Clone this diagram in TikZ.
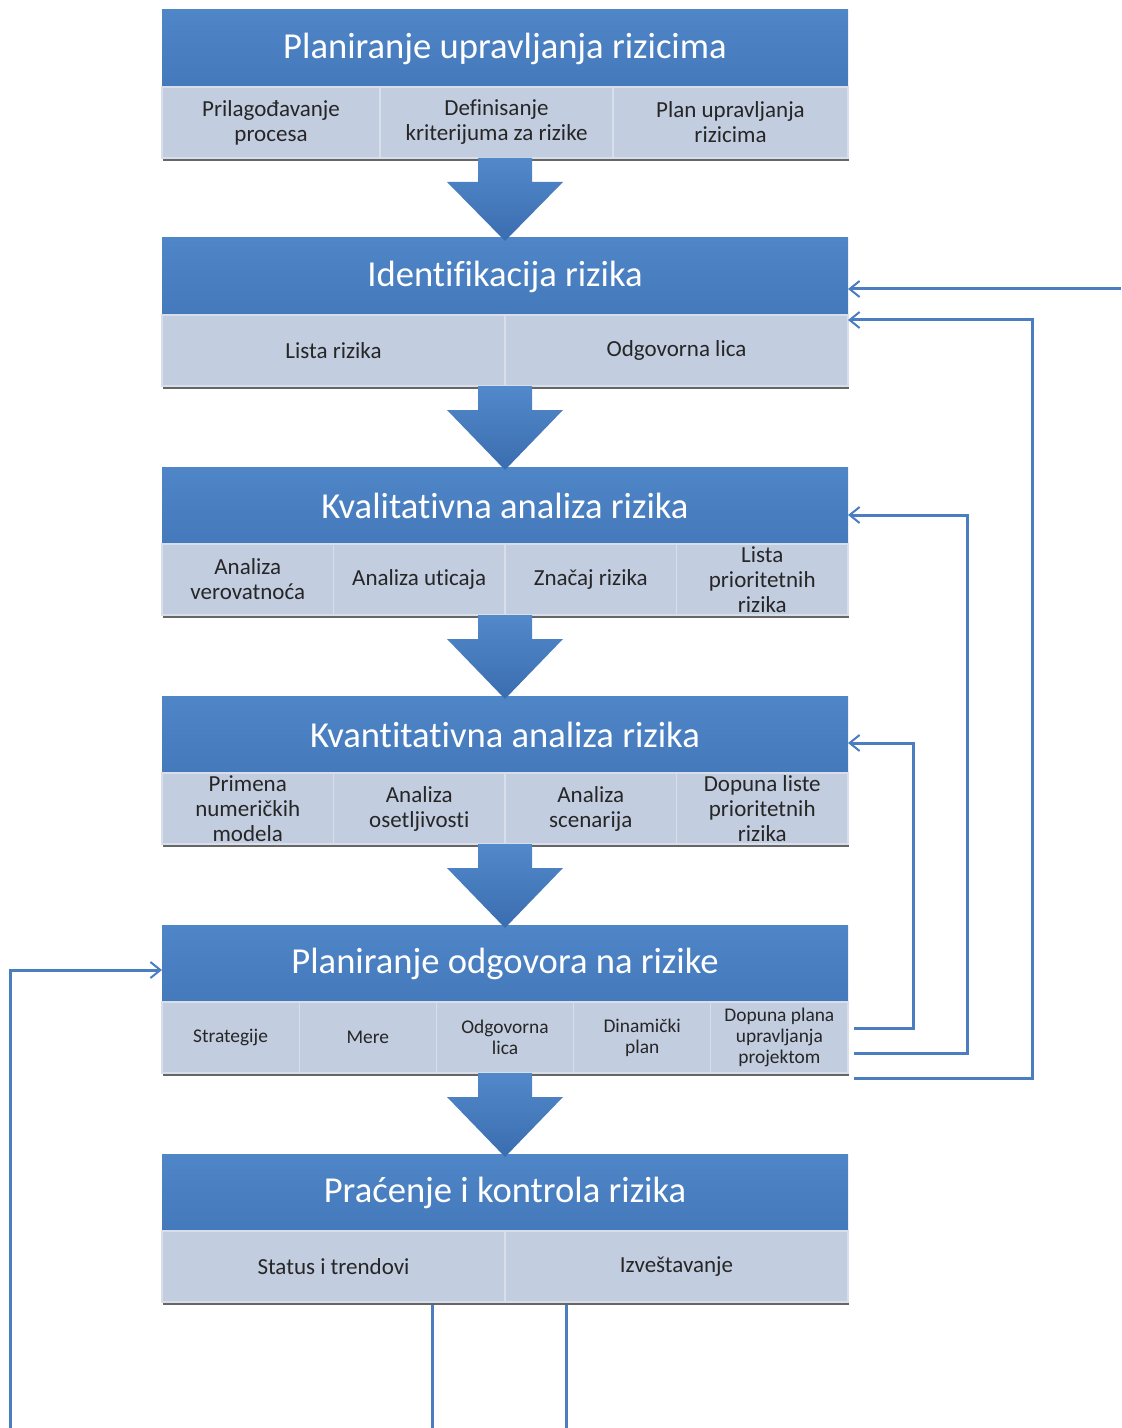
\documentclass[tikz,border=0pt]{standalone}
\usepackage{fontspec}
\setmainfont{Carlito}[Ligatures=NoCommon]
\usetikzlibrary{arrows.meta,calc,shadows}

\definecolor{hdrtop}{HTML}{4F86C7}
\definecolor{hdrbot}{HTML}{4479BB}
\definecolor{cellgray}{HTML}{C3CDE0}
\definecolor{celledge}{HTML}{D8DFEB}
\definecolor{linkblue}{HTML}{4A7EC0}
\definecolor{flowtop}{HTML}{5289CA}
\definecolor{flowbot}{HTML}{3A6DAF}
\definecolor{txtdark}{HTML}{262626}

\newcommand{\bigarrow}[2]{%
  \shade[flow] ($(#1)+(-27,0)$) -- ($(#1)+(27,0)$) -- ($(#1)+(27,24)$) -- ($(#1)+(58,24)$)
    -- ([yshift=-1.5pt]#2) -- ($(#1)+(-58,24)$) -- ($(#1)+(-27,24)$) -- cycle;}

\begin{document}
\begin{tikzpicture}[x=0.5pt,y=-0.5pt,
    hdr/.style={top color=hdrtop, bottom color=hdrbot, minimum width=343pt, minimum height=38.5pt,
      inner sep=0pt, outer sep=0pt, text=white, font=\fontsize{18.3}{21}\selectfont},
    cell/.style={fill=cellgray, draw=celledge, line width=0.6pt, minimum height=35.5pt,
      inner sep=1pt, outer sep=0pt, align=center, text=txtdark, font=\fontsize{11.5}{12.5}\selectfont,
      drop shadow={shadow xshift=0.6pt, shadow yshift=-1.4pt, opacity=0.6, fill=black}},
    cwide/.style={cell, minimum width=171.5pt},
    cquad/.style={cell, minimum width=85.75pt},
    cfive/.style={cell, minimum width=68.6pt, font=\fontsize{9.7}{10.5}\selectfont},
    flow/.style={top color=flowtop, bottom color=flowbot},
    link/.style={draw=linkblue, line width=1.5pt},
    back/.style={link, -{Straight Barb[length=5pt,width=8pt,line width=1pt]}}]
    \useasboundingbox (0,0) rectangle (1121,1428);

    % Planiranje upravljanja rizicima
    \node[hdr] (plan) at (505,48.5) {Planiranje upravljanja rizicima};
    \node[cell, minimum width=109pt] (plan1) at (271,122.5) {Prilagođavanje\\procesa};
    \node[cell, minimum width=116.5pt] (plan2) at (496.5,122.5) {Definisanje\\kriterijuma za rizike};
    \node[cell, minimum width=117.5pt] (plan3) at (730.5,122.5) {Plan upravljanja\\rizicima};

    % Identifikacija
    \node[hdr] (ident) at (505,276.5) {Identifikacija rizika};
    \node[cwide] (ident1) at (333.5,350.5) {Lista rizika};
    \node[cwide] (ident2) at (676.5,350.5) {Odgovorna lica};

    % Kvalitativna analiza
    \node[hdr] (kval) at (505,505.5) {Kvalitativna analiza rizika};
    \node[cquad] (kval1) at (247.75,579.5) {Analiza\\verovatnoća};
    \node[cquad] (kval2) at (419.25,579.5) {Analiza uticaja};
    \node[cquad] (kval3) at (590.75,579.5) {Značaj rizika};
    \node[cquad] (kval4) at (762.25,579.5) {Lista\\prioritetnih\\rizika};

    % Kvantitativna analiza
    \node[hdr] (kvant) at (505,734.5) {Kvantitativna analiza rizika};
    \node[cquad] (kvant1) at (247.75,808.5) {Primena\\numeričkih\\modela};
    \node[cquad] (kvant2) at (419.25,808.5) {Analiza\\osetljivosti};
    \node[cquad] (kvant3) at (590.75,808.5) {Analiza\\scenarija};
    \node[cquad] (kvant4) at (762.25,808.5) {Dopuna liste\\prioritetnih\\rizika};

    % Planiranje odgovora
    \node[hdr] (odg) at (505,963.5) {Planiranje odgovora na rizike};
    \node[cfive] (odg1) at (230.6,1037.5) {Strategije};
    \node[cfive] (odg2) at (367.8,1037.5) {Mere};
    \node[cfive] (odg3) at (505,1037.5) {Odgovorna\\lica};
    \node[cfive] (odg4) at (642.2,1037.5) {Dinamički\\plan};
    \node[cfive] (odg5) at (779.4,1037.5) {Dopuna plana\\upravljanja\\projektom};

    % Pracenje i kontrola
    \node[hdr] (prac) at (505,1192.5) {Praćenje i kontrola rizika};
    \node[cwide] (prac1) at (333.5,1266.5) {Status i trendovi};
    \node[cwide] (prac2) at (676.5,1266.5) {Izveštavanje};

    % big arrows
    \coordinate (f1) at (plan2.south -| plan.south);
    \coordinate (f2) at (ident1.south -| ident.south);
    \coordinate (f3) at (kval2.south -| kval.south);
    \coordinate (f4) at (kvant2.south -| kvant.south);
    \coordinate (f5) at (odg3.south -| odg.south);
    \bigarrow{f1}{ident.north}
    \bigarrow{f2}{kval.north}
    \bigarrow{f3}{kvant.north}
    \bigarrow{f4}{odg.north}
    \bigarrow{f5}{prac.north}

    % feedback
    \draw[back] ([xshift=3pt,yshift=4.75pt]odg5.east) -| ([xshift=32.5pt,yshift=-4.25pt]kvant.east) -- ([yshift=-4.25pt]kvant.east);
    \draw[back] ([xshift=3pt,yshift=-7.75pt]odg5.east) -| ([xshift=59.5pt,yshift=-4.75pt]kval.east) -- ([yshift=-4.75pt]kval.east);
    \draw[back] ([xshift=3pt,yshift=-20.25pt]odg5.east) -| ([xshift=92pt,yshift=-2.5pt]ident2.north east) -- ([yshift=-2.5pt]ident2.north east);
    \coordinate (rin) at (1121,289);
    \draw[back] (rin) -- (rin -| ident.east);
    \coordinate (lin) at (10,1428);
    \draw[back] (lin) |- ([yshift=-3.25pt]odg.west);
    \coordinate (b1) at (432,1428);
    \coordinate (b2) at (566,1428);
    \draw[link] ([yshift=-1.5pt]b1 |- prac1.south) -- (b1);
    \draw[link] ([yshift=-1.5pt]b2 |- prac2.south) -- (b2);
\end{tikzpicture}
\end{document}
